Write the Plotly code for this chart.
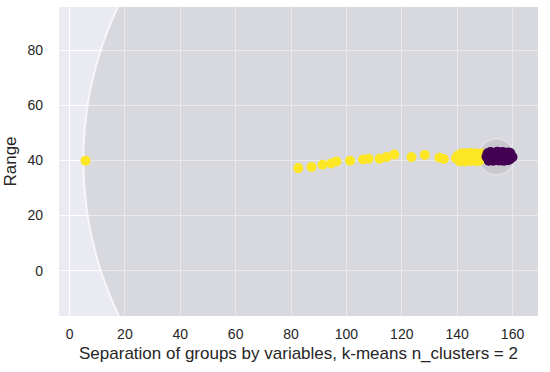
import plotly.graph_objects as go

yellow_x = [5.8, 82.6, 87.4, 91.4, 94.5, 96.4, 101.3, 106.0, 108.0, 112.0, 114.5, 117.3, 123.5, 128.3, 133.6, 135.2,
            139.5, 140.2, 140.8, 141.5, 141.0, 142.3, 142.8, 143.5, 143.0, 144.2, 144.8, 145.5, 145.0, 146.2,
            146.8, 147.5, 147.0, 148.2, 148.8, 149.0, 142.0, 144.0, 146.0, 148.0]
yellow_y = [39.9, 37.2, 37.6, 38.4, 38.9, 39.6, 39.9, 40.3, 40.6, 40.6, 41.2, 42.1, 41.2, 42.0, 41.0, 40.5,
            40.8, 41.8, 40.2, 42.5, 39.6, 41.2, 42.6, 40.0, 39.6, 41.6, 42.7, 40.4, 39.8, 41.0,
            42.6, 40.1, 39.7, 41.5, 42.5, 40.6, 41.0, 40.8, 41.2, 39.9]

purple_x = [150.6, 151.0, 151.5, 152.0, 152.5, 153.0, 153.5, 154.0, 154.5, 155.0, 155.5, 156.0, 156.5, 157.0,
            157.5, 158.0, 158.5, 159.0, 159.6, 152.2, 154.2, 156.2, 158.2, 153.2, 155.2, 157.2, 159.2, 151.4, 160.0]
purple_y = [41.3, 42.6, 40.2, 43.0, 41.5, 39.9, 42.8, 41.0, 43.1, 40.0, 42.2, 41.4, 43.0, 39.9,
            42.5, 41.2, 42.9, 40.3, 41.6, 40.8, 40.1, 40.0, 40.1, 42.0, 42.9, 41.8, 42.7, 39.9, 41.2]

# cluster hulls: centre x, centre y, radius
circle_cx = [135.0, 154.2]
circle_cy = [40.0, 41.3]
circle_r = [130.0, 6.5]
circle_edge = ["rgba(255,255,255,0.7)", "rgba(255,255,255,0.25)"]

x_ticks = [0, 20, 40, 60, 80, 100, 120, 140, 160]
y_ticks = [0, 20, 40, 60, 80]

FONT = "Liberation Sans, Arial, sans-serif"

fig = go.Figure()
fig.add_trace(go.Scatter(x=yellow_x, y=yellow_y, mode="markers",
                         marker=dict(color="#FDE725", size=10, line=dict(width=0)), showlegend=False))
fig.add_trace(go.Scatter(x=purple_x, y=purple_y, mode="markers",
                         marker=dict(color="#440154", size=10, line=dict(width=0)), showlegend=False))

for cx, cy, r, ec in zip(circle_cx, circle_cy, circle_r, circle_edge):
    fig.add_shape(type="circle", xref="x", yref="y", x0=cx - r, x1=cx + r, y0=cy - r, y1=cy + r,
                  fillcolor="rgba(128,128,128,0.17)", line=dict(color=ec, width=2),
                  layer="between")

axis_common = dict(showgrid=True, gridcolor="white", gridwidth=1, zeroline=False, showline=False,
                   ticks="", automargin=False,
                   tickfont=dict(family=FONT, size=14, color="#262626"),
                   title_font=dict(family=FONT, size=17, color="#262626"))

fig.update_xaxes(range=[-3.8, 169.2], tickvals=x_ticks,
                 title_text="Separation of groups by variables, k-means n_clusters = 2",
                 title_standoff=6, ticklabelstandoff=8, **axis_common)
fig.update_yaxes(range=[-16.4, 95.6], tickvals=y_ticks, title_text="Range", title_standoff=6,
                 ticklabelstandoff=15, **axis_common)

fig.update_layout(width=550, height=372, margin=dict(l=59, r=12, t=7, b=56),
                  plot_bgcolor="#EAEAF2", paper_bgcolor="white")

fig.write_html("out.html", config={"displayModeBar": False},
               post_script="document.body.style.margin='0';")
